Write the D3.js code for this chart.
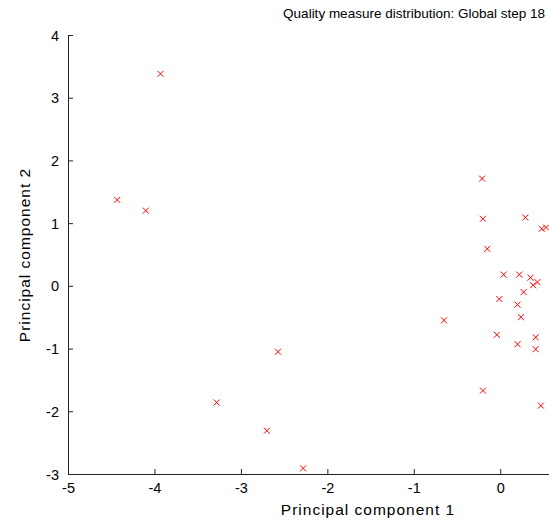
<!DOCTYPE html>
<html>
<head>
<meta charset="utf-8">
<script src="https://cdn.jsdelivr.net/npm/d3@7"></script>
<style>
  body { margin: 0; background: #fff; }
  svg { display: block; font-family: "Liberation Sans", Arial, sans-serif; }
</style>
</head>
<body>
<svg id="chart" width="549" height="521"></svg>
<script>
// principal component scores
var pc1 = [-3.93, -4.43, -4.10, -3.28, -2.57, -2.70, -2.28,
           -0.21, -0.20, 0.29, 0.48, 0.53, -0.15, 0.04, 0.22, 0.35, 0.43, 0.38,
           0.27, -0.01, 0.20, 0.24, -0.65, -0.04, 0.41, 0.20, 0.41, -0.20, 0.47];
var pc2 = [3.38, 1.37, 1.20, -1.86, -1.05, -2.31, -2.91,
           1.71, 1.07, 1.09, 0.91, 0.93, 0.59, 0.18, 0.18, 0.13, 0.06, 0.01,
           -0.10, -0.21, -0.30, -0.50, -0.55, -0.78, -0.82, -0.93, -1.01, -1.67, -1.91];
var xTicks = [-5, -4, -3, -2, -1, 0];
var yTicks = [-3, -2, -1, 0, 1, 2, 3, 4];

var svg = d3.select("#chart");

var x = d3.scaleLinear().domain([-5, 0.564]).range([68, 549]);
var y = d3.scaleLinear().domain([-3, 4]).range([474, 35]);

// plain hyphen minus like the original
var fmt = function(d) { return String(d); };

var xAxis = d3.axisBottom(x).tickValues(xTicks).tickSizeInner(-5).tickSizeOuter(0).tickPadding(9)
    .tickFormat(fmt);
var yAxis = d3.axisLeft(y).tickValues(yTicks).tickSizeInner(-5).tickSizeOuter(0).tickPadding(9)
    .tickFormat(fmt);

var gx = svg.append("g")
    .attr("transform", "translate(0," + y(-3) + ")")
    .call(xAxis);
var gy = svg.append("g")
    .attr("transform", "translate(" + x(-5) + ",0)")
    .call(yAxis);

[gx, gy].forEach(function(g) {
  g.select(".domain").attr("stroke", "#222").attr("stroke-width", 1);
  g.selectAll(".tick line").attr("stroke", "#222");
  g.selectAll(".tick text")
      .attr("fill", "#000")
      .style("font-size", "14.5px")
      .style("font-family", "'Liberation Sans', Arial, sans-serif");
});
gy.selectAll(".tick text").attr("dy", "0.35em");

// points drawn as small x marks
var pts = pc1.map(function(v, i) { return [v, pc2[i]]; });
var s = 3;
svg.append("g").selectAll("path")
    .data(pts)
  .enter().append("path")
    .attr("d", function(d) {
      var cx = x(d[0]), cy = y(d[1]);
      return "M" + (cx - s) + "," + (cy - s) + "L" + (cx + s) + "," + (cy + s) +
             "M" + (cx - s) + "," + (cy + s) + "L" + (cx + s) + "," + (cy - s);
    })
    .attr("stroke", "#ff0000")
    .attr("stroke-width", 1)
    .attr("fill", "none");

svg.append("text")
    .attr("x", 545)
    .attr("y", 18)
    .attr("text-anchor", "end")
    .style("font-size", "13.5px")
    .text("Quality measure distribution: Global step 18");

svg.append("text")
    .attr("x", 368)
    .attr("y", 515)
    .attr("text-anchor", "middle")
    .style("font-size", "15.5px")
    .style("letter-spacing", "1px")
    .text("Principal component 1");

svg.append("text")
    .attr("transform", "translate(30,255) rotate(-90)")
    .attr("text-anchor", "middle")
    .style("font-size", "15.5px")
    .style("letter-spacing", "1px")
    .text("Principal component 2");
</script>
</body>
</html>
